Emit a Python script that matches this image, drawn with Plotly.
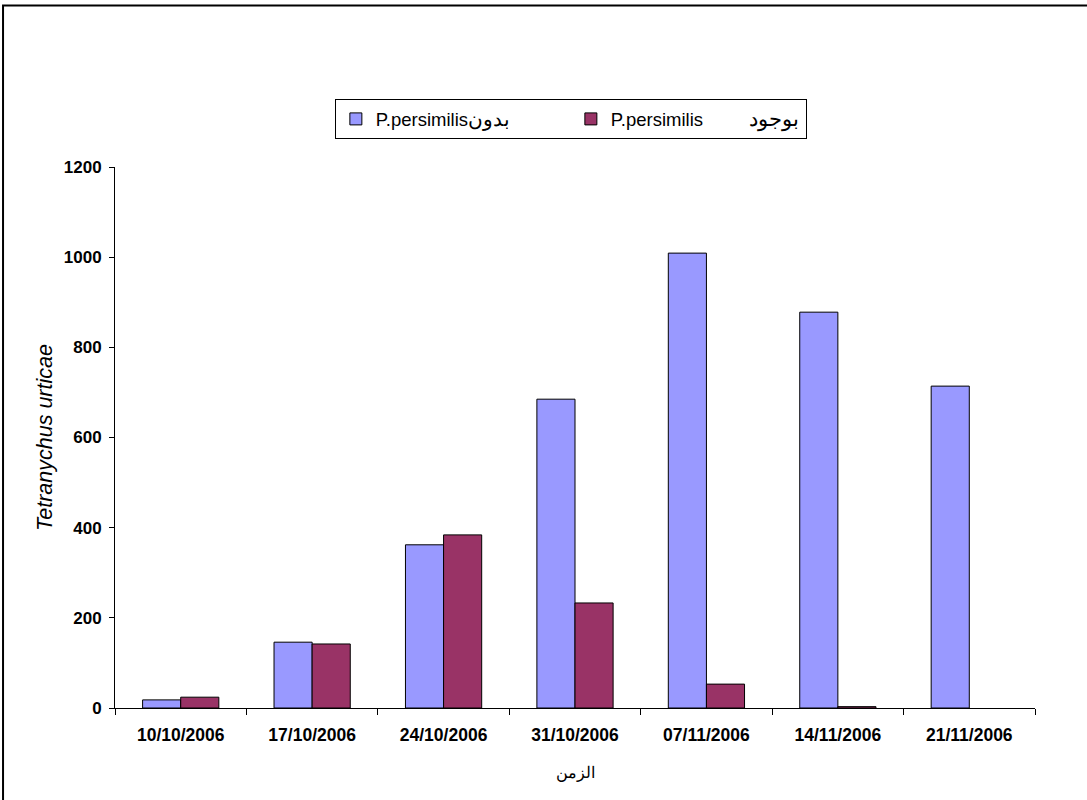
import plotly.graph_objects as go

dates = ["10/10/2006", "17/10/2006", "24/10/2006", "31/10/2006",
         "07/11/2006", "14/11/2006", "21/11/2006"]
without_predator = [18, 146, 362, 685, 1009, 878, 714]
with_predator = [24, 142, 384, 233, 53, 3, None]

gap = "\u00a0" * 9
name_without = "P.persimilis<span style='font-size:20px'>بدون</span>"
name_with = "P.persimilis" + gap + "<span style='font-size:21px'>بوجود</span>"

fig = go.Figure()
fig.add_trace(go.Bar(x=dates, y=without_predator, name=name_without,
                     marker=dict(color="#9999FF", line=dict(color="black", width=1))))
fig.add_trace(go.Bar(x=dates, y=with_predator, name=name_with,
                     marker=dict(color="#993366", line=dict(color="black", width=1))))

font_family = "Liberation Sans, Arial, sans-serif"

fig.update_layout(
    width=1087, height=800,
    margin=dict(l=115, r=52, t=167, b=92),
    paper_bgcolor="white", plot_bgcolor="white",
    barmode="group", bargap=0.42, bargroupgap=0,
    font=dict(family=font_family, color="black"),
    legend=dict(orientation="h", x=0.4955, xanchor="center", y=1.125, yanchor="top",
                bordercolor="black", borderwidth=1, font=dict(size=18.5),
                itemwidth=30, entrywidth=190, traceorder="normal"),
    xaxis=dict(
        showline=True, linecolor="black", linewidth=1,
        ticks="outside", tickson="boundaries", ticklen=6, tickcolor="black",
        ticklabelstandoff=11,
        tickfont=dict(size=17.5, family=font_family, weight="bold"),
        title=dict(text="الزمن", font=dict(size=16), standoff=22),
        showgrid=False,
    ),
    yaxis=dict(
        range=[0, 1200], dtick=200,
        showline=True, linecolor="black", linewidth=1,
        ticks="outside", ticklen=5, tickcolor="black",
        ticklabelstandoff=4,
        tickfont=dict(size=17, family=font_family, weight="bold"),
        title=dict(text="<i>Tetranychus urticae</i>", font=dict(size=21.5), standoff=5),
        showgrid=False, zeroline=False,
    ),
    shapes=[dict(type="rect", xref="paper", yref="paper",
                 x0=-0.1217, x1=1.2, y0=-0.3, y1=1.2985,
                 line=dict(color="black", width=2), layer="below")],
)

fig.write_html("out.html")
